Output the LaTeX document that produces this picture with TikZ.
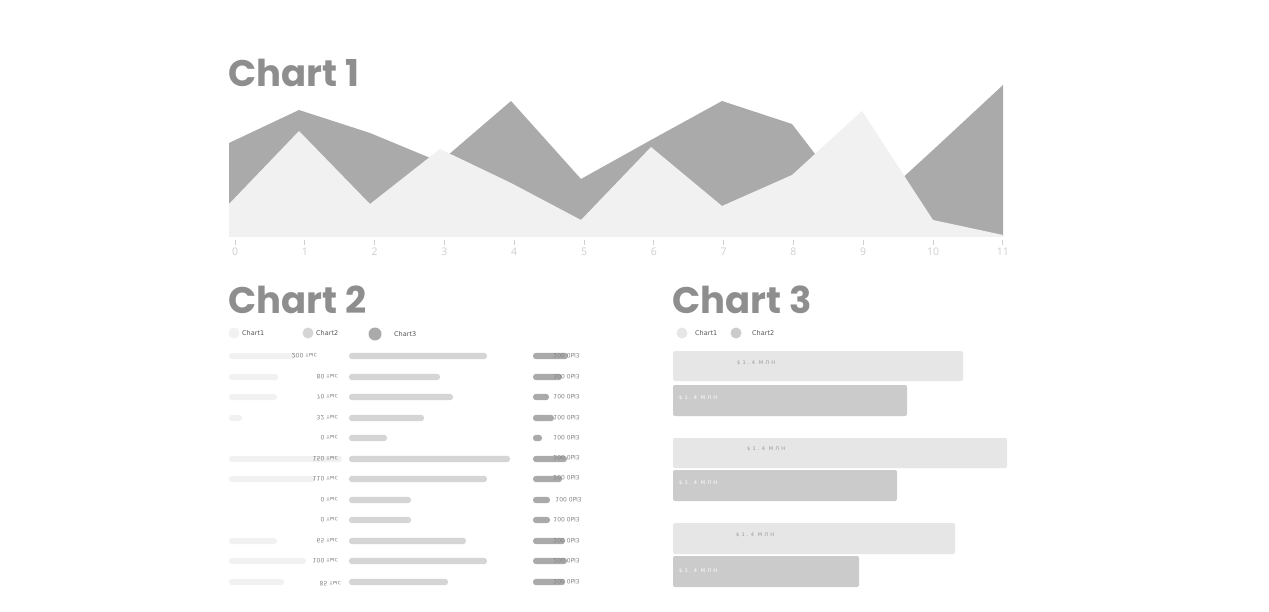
\documentclass[tikz,border=0pt]{standalone}
\usepackage{fontspec}
\newfontfamily\titlefont{Poppins}
\newfontfamily\lblfont{DejaVu Sans}
\newfontfamily\spacedfont[LetterSpace=45]{DejaVu Sans}
\newfontfamily\tickfont{Open Sans}
\definecolor{titlegray}{HTML}{8E8E8E}
\definecolor{darkarea}{HTML}{AAAAAB}
\definecolor{lightarea}{HTML}{F1F1F1}
\definecolor{tickgray}{HTML}{CFCFCF}
\definecolor{barA}{HTML}{F1F1F1}
\definecolor{barB}{HTML}{D5D5D5}
\definecolor{barC}{HTML}{AAAAAA}
\definecolor{hbarA}{HTML}{E6E6E6}
\definecolor{hbarB}{HTML}{CBCBCB}
\definecolor{lblgray}{HTML}{858585}
\definecolor{legtext}{HTML}{555555}
\tikzset{
  charttitle/.style={anchor=base west, inner sep=0pt, text=titlegray, font=\titlefont\bfseries\fontsize{37}{40}\selectfont},
  ticklbl/.style={anchor=center, inner sep=0pt, text=tickgray, font=\tickfont\fontsize{10.5}{12}\selectfont},
  legtxt/.style={anchor=west, inner sep=0pt, text=legtext, font=\lblfont\fontsize{6.5}{7}\selectfont},
  rowlbl/.style={inner sep=0pt, text=lblgray, font=\lblfont\fontsize{6}{7}\selectfont},
  hbarlbl/.style={anchor=west, inner sep=0pt, font=\spacedfont\fontsize{5}{6}\selectfont},
}
\begin{document}
\begin{tikzpicture}[x=1pt,y=-1pt]
\useasboundingbox[fill=white] (0,0) rectangle (1269,612);

% ---------- Chart 1 ----------
\node[charttitle] (t1) at (228,87) {Chart 1};
\fill[darkarea] (229,237) -- (229,143) -- (299,110) -- (370,133) -- (440,162) -- (511,101) -- (581,179) -- (651,140) -- (722,101) -- (792,124) -- (862,215) -- (933,150) -- (1003,85) -- (1003,237) -- cycle;
\fill[lightarea] (229,237) -- (229,204) -- (299,131) -- (370,204) -- (440,149) -- (511,183) -- (581,220) -- (651,147) -- (722,206) -- (792,175) -- (862,111) -- (933,220) -- (1003,235) -- (1003,237) -- cycle;
\foreach \i in {0,...,11}{
  \coordinate (tka\i) at ({235+69.8*\i},240);
  \coordinate (tkb\i) at ({235+69.8*\i},245);
  \draw[tickgray, line width=0.8pt] (tka\i) -- (tkb\i);
  \node[ticklbl] (tk\i) at ({235+69.8*\i},252) {\i};
}

% ---------- Chart 2 ----------
\node[charttitle] (t2) at (228,314) {Chart 2};
\fill[barA] (234,333) circle (5.5);
\node[legtxt] (l2a) at (242,333) {Chart1};
\fill[barB] (308,333) circle (5.5);
\node[legtxt] (l2b) at (316,333) {Chart2};
\fill[barC] (375,334) circle (6.5);
\node[legtxt] (l2c) at (394,334) {Chart3};

% left light bars
\foreach \y/\e in {356/296,377/278,397/277,418/242,459/342,479/315,541/277,561/306,582/284}{
  \fill[barA, rounded corners=2.8pt] (229,\y-3) rectangle (\e,\y+3);
}
% middle bars
\foreach \y/\e in {356/487,377/440,397/453,418/424,438/387,459/510,479/487,500/411,520/411,541/466,561/487,582/448}{
  \fill[barB, rounded corners=3pt] (349,\y-3.2) rectangle (\e,\y+3.2);
}
% right bars
\foreach \y/\e in {356/568,377/562,397/549,418/554,438/542,459/567,479/562,500/550,520/550,541/565,561/567,582/565}{
  \fill[barC, rounded corners=3pt] (533,\y-3.2) rectangle (\e,\y+3.2);
}
% left labels
\foreach \n/\y/\x/\v in {a/356/317/200,b/377/338/80,c/397/338/70,d/418/338/32,e/438/338/0,f/459/338/150,g/479/338/110,h/500/338/0,i/520/338/0,j/541/338/65,k/561/338/100,l/584/341/85}{
  \node[rowlbl, anchor=east] (ll\n) at (\x,\y) {\scalebox{1}[-1]{\v\ тыс}};
}
% right labels
\foreach \n/\y/\x/\v in {a/356/580/200,b/377/580/300,c/397/580/100,d/418/580/100,e/438/580/100,f/458/580/200,g/478/580/200,h/500/582/100,i/520/580/100,j/541/580/200,k/561/580/200,l/582/580/200}{
  \node[rowlbl, anchor=east] (rl\n) at (\x,\y) {\scalebox{1}[-1]{\v\ 0ЫЗ}};
}

% ---------- Chart 3 ----------
\node[charttitle] (t3) at (672,314) {Chart 3};
\fill[hbarA] (682,333) circle (5.5);
\node[legtxt] (l3a) at (695,333) {Chart1};
\fill[hbarB] (736,333) circle (5.5);
\node[legtxt] (l3b) at (752,333) {Chart2};

\fill[hbarA, rounded corners=2pt] (673,351) rectangle (963,381);
\node[hbarlbl, text=gray!80] (h1a) at (737,363) {\$1.4 МЛН};
\fill[hbarB, rounded corners=2pt] (673,385) rectangle (907,416);
\node[hbarlbl, text=white] (h1b) at (679,398) {\$1.4 МЛН};

\fill[hbarA, rounded corners=2pt] (673,438) rectangle (1007,468);
\node[hbarlbl, text=gray!80] (h2a) at (747,449) {\$1.4 МЛН};
\fill[hbarB, rounded corners=2pt] (673,470) rectangle (897,501);
\node[hbarlbl, text=white] (h2b) at (679,483) {\$1.4 МЛН};

\fill[hbarA, rounded corners=2pt] (673,523) rectangle (955,554);
\node[hbarlbl, text=gray!80] (h3a) at (736,535) {\$1.4 МЛН};
\fill[hbarB, rounded corners=2pt] (673,556) rectangle (859,587);
\node[hbarlbl, text=white] (h3b) at (679,571) {\$1.4 МЛН};
\end{tikzpicture}
\end{document}
